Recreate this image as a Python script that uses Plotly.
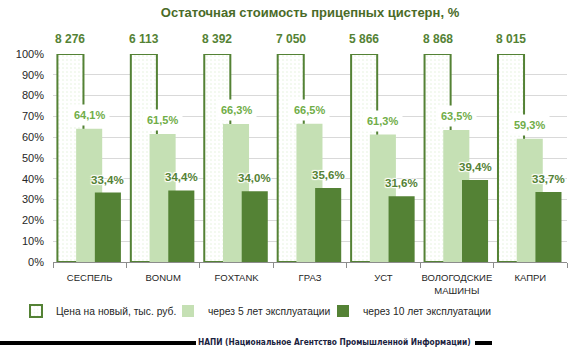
import plotly.graph_objects as go

categories = ["СЕСПЕЛЬ", "BONUM", "FOXTANK", "ГРАЗ", "УСТ", "ВОЛОГОДСКИЕ<br>МАШИНЫ", "КАПРИ"]
new_price = [8276, 6113, 8392, 7050, 5866, 8868, 8015]
new_price_labels = ["8 276", "6 113", "8 392", "7 050", "5 866", "8 868", "8 015"]
after5 = [0.641, 0.615, 0.663, 0.665, 0.613, 0.635, 0.593]
after10 = [0.334, 0.344, 0.340, 0.356, 0.316, 0.394, 0.337]
y_ticks = [0, 0.1, 0.2, 0.3, 0.4, 0.5, 0.6, 0.7, 0.8, 0.9, 1.0]
series_names = ["Цена на новый, тыс. руб.", "через 5 лет эксплуатации", "через 10 лет эксплуатации"]

W, H = 580, 353
ML, MR, MT, MB = 53, 13, 54, 91
PW = W - ML - MR
PH = H - MT - MB

def px2x(px):
    return (px - ML) / PW

def px2y(py):
    return (H - MB - py) / PH

BW = 0.355
OFF = [-0.44, -0.185, 0.07]
DARK = "#548235"
LIGHT = "#c5e0b4"
LABEL_LIGHT = "#70ad47"
FONT = "Liberation Sans, Arial, sans-serif"

idx = list(range(len(categories)))

fig = go.Figure()
fig.add_trace(go.Bar(
    x=idx, y=[1.0] * len(categories), name=series_names[0],
    width=BW, offset=OFF[0], legendwidth=107,
    marker=dict(color="white", line=dict(color=DARK, width=2),
                pattern=dict(shape=".", fgcolor="#c6e2b3", bgcolor="white", size=4, solidity=0.12)),
    customdata=new_price, hoverinfo="skip",
))
fig.add_trace(go.Bar(
    x=idx, y=after5, name=series_names[1], width=BW, offset=OFF[1], legendwidth=110,
    marker=dict(color=LIGHT, line=dict(width=0)),
))
fig.add_trace(go.Bar(
    x=idx, y=after10, name=series_names[2], width=BW, offset=OFF[2],
    marker=dict(color=DARK, line=dict(width=0)),
))

ann = []
for i in idx:
    ann.append(dict(x=i + OFF[0] + BW / 2, y=1.0, xref="x", yref="y", text="<b>%s</b>" % new_price_labels[i],
                    showarrow=False, yanchor="bottom", yshift=6,
                    font=dict(family=FONT, size=12, color=DARK)))
    ann.append(dict(x=i + OFF[1] + BW / 2, y=after5[i], xref="x", yref="y",
                    text="<b>%s</b>" % ("%.1f%%" % (after5[i] * 100)).replace(".", ","),
                    showarrow=False, yanchor="bottom", yshift=3, bgcolor="white", borderpad=4,
                    font=dict(family=FONT, size=11, color=LABEL_LIGHT)))
    ann.append(dict(x=i + OFF[2] + BW / 2, y=after10[i], xref="x", yref="y",
                    text="<b>%s</b>" % ("%.1f%%" % (after10[i] * 100)).replace(".", ","),
                    showarrow=False, yanchor="bottom", yshift=5,
                    font=dict(family=FONT, size=11.5, color=DARK,
                              shadow="1px 1px 1px white, -1px -1px 1px white, 1px -1px 1px white, -1px 1px 1px white")))

ann.append(dict(x=px2x(334), y=px2y(342), xref="paper", yref="paper",
                text="<b>НАПИ (Национальное Агентство Промышленной Информации)</b>",
                showarrow=False, xanchor="center", yanchor="middle",
                font=dict(family="DejaVu Sans Condensed, Liberation Sans, sans-serif", size=8.3, color="#1b2340")))

shapes = [
    dict(type="line", xref="paper", yref="paper", x0=px2x(0), x1=px2x(196), y0=px2y(343), y1=px2y(343),
         line=dict(color="black", width=4)),
    dict(type="line", xref="paper", yref="paper", x0=px2x(475), x1=px2x(492), y0=px2y(343), y1=px2y(343),
         line=dict(color="black", width=4)),
]

fig.update_layout(
    width=W, height=H, margin=dict(l=ML, r=MR, t=MT, b=MB),
    paper_bgcolor="white", plot_bgcolor="white",
    barmode="overlay", showlegend=True,
    title=dict(text="<b>Остаточная стоимость прицепных цистерн, %</b>", x=0.5, xref="paper",
               xanchor="center", y=1 - 12 / H, yref="container", yanchor="middle",
               font=dict(family=FONT, size=13, color="#4a6b28")),
    xaxis=dict(type="linear", range=[-0.5, len(categories) - 0.5], tickvals=idx, ticktext=categories,
               showgrid=False, zeroline=False, showline=True, linecolor="#8c8c8c", linewidth=1,
               ticks="", ticklabelstandoff=7, tickfont=dict(family=FONT, size=9.5, color="#262626"),
               minor=dict(tickvals=[i - 0.5 for i in range(len(categories) + 1)], ticks="outside",
                          ticklen=5, tickcolor="#8c8c8c", showgrid=False)),
    yaxis=dict(range=[0, 1.0], tickvals=y_ticks, tickformat=".0%", showgrid=True, gridcolor="#d9d9d9",
               gridwidth=1, zeroline=False, showline=False, ticks="", ticklabelstandoff=8,
               tickfont=dict(family=FONT, size=11, color="#262626")),
    legend=dict(orientation="h", x=px2x(16), y=px2y(311), xanchor="left", yanchor="middle",
                font=dict(family=FONT, size=10.3, color="#262626"), itemwidth=30, traceorder="normal"),
    annotations=ann, shapes=shapes,
)

fig.write_html("out.html")
